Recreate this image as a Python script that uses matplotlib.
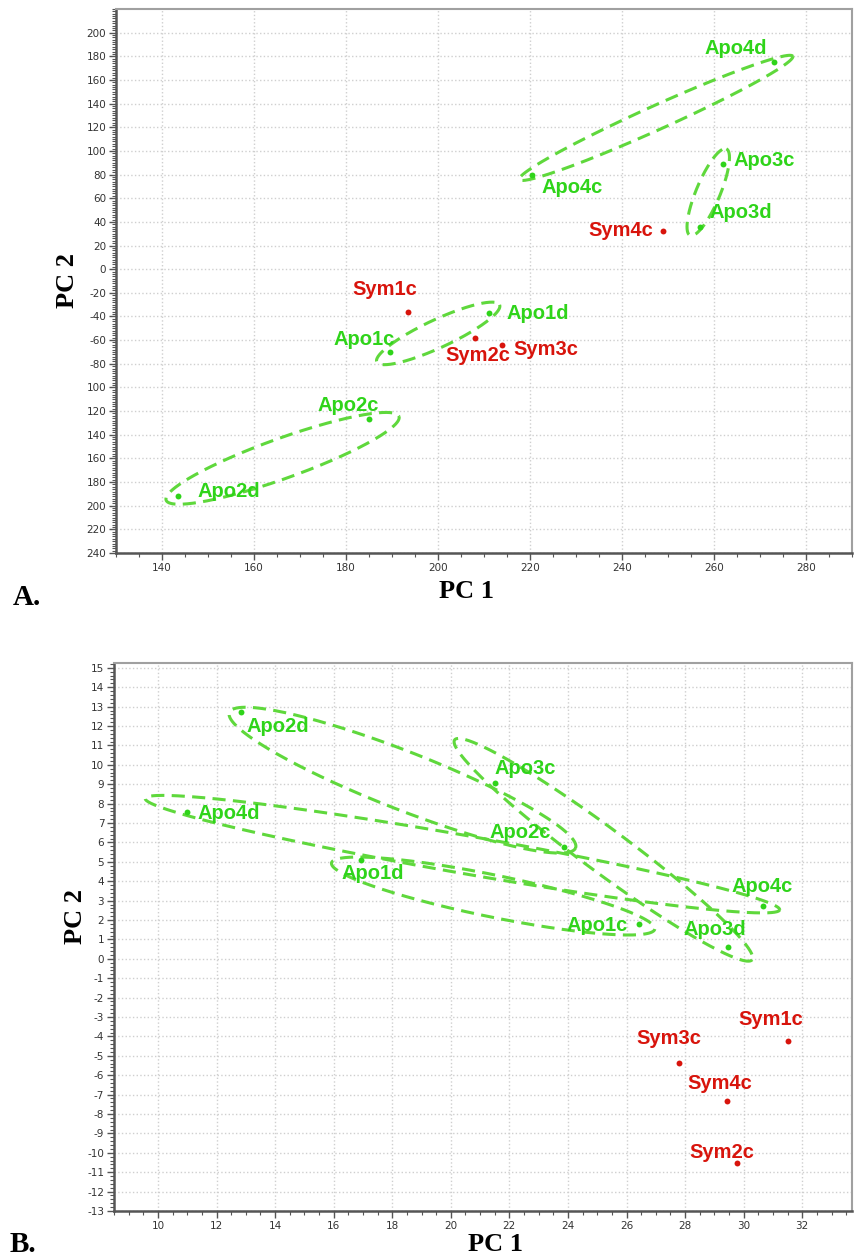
import numpy as np
import matplotlib
matplotlib.use("Agg")
import matplotlib.pyplot as plt
from matplotlib.ticker import MultipleLocator, FuncFormatter

# ====================
# Data
# ====================
names = ["Apo1c", "Apo1d", "Apo2c", "Apo2d", "Apo3c", "Apo3d",
         "Apo4c", "Apo4d", "Sym1c", "Sym2c", "Sym3c", "Sym4c"]

a_pc1 = [189.5, 211.0, 185.0, 143.5, 262.0, 257.0, 220.5, 273.0, 193.5, 208.0, 214.0, 249.0]
a_pc2 = [-70.0, -37.0, -127.0, -192.0, 89.0, 36.0, 80.0, 175.0, -36.0, -58.5, -64.0, 32.0]

b_pc1 = [26.42, 16.95, 23.85, 12.85, 21.5, 29.47, 30.65, 11.0, 31.5, 29.77, 27.78, 29.43]
b_pc2 = [1.79, 5.1, 5.77, 12.7, 9.07, 0.62, 2.73, 7.55, -4.23, -10.53, -5.38, -7.32]

# replicate pairs enclosed by a dashed ellipse
pairs_a = [("Apo1c", "Apo1d"), ("Apo2d", "Apo2c"), ("Apo3d", "Apo3c"), ("Apo4c", "Apo4d")]
pairs_b = [("Apo1d", "Apo1c"), ("Apo2d", "Apo2c"), ("Apo3c", "Apo3d"), ("Apo4d", "Apo4c")]

# ====================
# Styles
# ====================
GREEN = "#2fd41a"
GREEN_LINE = "#5fd83c"
RED = "#d8140c"
W, H = 855, 1256
DPI = 100

plt.rcParams["axes.unicode_minus"] = False

# ellipse shape in px: (extension past 1st point, shift at 1st end,
#                       extension past 2nd point, shift at 2nd end, half width)
ell_a = [(15.7, 4.6, 13.2, -3.5, 14), (12.6, -0.8, 28.9, 8.5, 20),
         (11.8, -6.4, 15.2, -2.2, 12), (13.9, -1.0, 19.7, 2.6, 12)]
ell_b = [(28.5, 9.7, 16.7, 1.3, 21), (11.1, 4.6, 11.5, -3.7, 29),
         (57.5, -12.2, 27.1, -3.2, 22), (43.7, -7.0, 17.4, 1.2, 19)]

# label offsets in pixels (dx, dy, ha)
lab_a = {
    "Apo1c": (5, 12, "right"), "Apo1d": (18, -1, "left"),
    "Apo2c": (10, 14, "right"), "Apo2d": (19, 5, "left"),
    "Apo3c": (10, 3, "left"), "Apo3d": (9, 14, "left"),
    "Apo4c": (9, -13, "left"), "Apo4d": (-7, 14, "right"),
    "Sym1c": (-23, 22, "center"), "Sym2c": (3, -17, "center"),
    "Sym3c": (11, -5, "left"), "Sym4c": (-10, 1, "right"),
}
lab_b = {
    "Apo1c": (-11, -1, "right"), "Apo1d": (-20, -14, "left"),
    "Apo2c": (-13, 14, "right"), "Apo2d": (5, -14, "left"),
    "Apo3c": (0, 14, "left"), "Apo3d": (-13, 17, "center"),
    "Apo4c": (-1, 19, "center"), "Apo4d": (10, -1, "left"),
    "Sym1c": (-17, 21, "center"), "Sym2c": (-15, 11, "center"),
    "Sym3c": (-10, 25, "center"), "Sym4c": (-7, 17, "center"),
}


def pair_ellipse(ax, p1, p2, shape):
    ext1, s1, ext2, s2, half_w = shape
    trans = ax.transData
    hgt = ax.figure.bbox.height
    a, b = trans.transform([p1, p2])
    # work in image pixels (y down)
    a = np.array([a[0], hgt - a[1]])
    b = np.array([b[0], hgt - b[1]])
    u = (b - a) / np.linalg.norm(b - a)
    n = np.array([-u[1], u[0]])
    t1 = a - ext1 * u + s1 * n
    t2 = b + ext2 * u + s2 * n
    c = (t1 + t2) / 2
    semi = np.linalg.norm(t2 - t1) / 2
    v = (t2 - t1) / (2 * semi)
    m = np.array([-v[1], v[0]])
    th = np.linspace(0, 2 * np.pi, 400)
    pts = c + semi * np.cos(th)[:, None] * v + half_w * np.sin(th)[:, None] * m
    pts[:, 1] = hgt - pts[:, 1]
    data = trans.inverted().transform(pts)
    ax.plot(data[:, 0], data[:, 1], color=GREEN_LINE, lw=2.2,
            linestyle=(0, (4.3, 2.4)), zorder=2)


def style_axes(ax):
    for s in ["left", "bottom"]:
        ax.spines[s].set_color("#555555")
        ax.spines[s].set_linewidth(1.8)
    for s in ["top", "right"]:
        ax.spines[s].set_color("#a0a0a0")
        ax.spines[s].set_linewidth(1.5)
    ax.grid(True, which="major", color="#cfcfcf", linestyle=":", linewidth=1.0)
    ax.set_axisbelow(True)
    ax.tick_params(which="major", direction="out", length=5, width=1,
                   color="#555555", labelsize=7.5, labelcolor="#333333", pad=2)
    ax.tick_params(which="minor", direction="out", length=3, width=0.8,
                   color="#555555")
    ax.tick_params(top=False, right=False)


def draw_panel(ax, pc1, pc2, prs, ells, labs):
    pos = {nm: (x, y) for nm, x, y in zip(names, pc1, pc2)}
    for (n1, n2), shape in zip(prs, ells):
        pair_ellipse(ax, pos[n1], pos[n2], shape)
    for nm in names:
        col = GREEN if nm.startswith("Apo") else RED
        x, y = pos[nm]
        ax.scatter([x], [y], s=18, color=col, zorder=3, linewidths=0)
        dx, dy, ha = labs[nm]
        ax.annotate(nm, (x, y), xytext=(dx, dy), textcoords="offset pixels",
                    ha=ha, va="center", color=col, fontsize=14.5,
                    fontweight="bold", family="Liberation Sans", zorder=4)


fig = plt.figure(figsize=(W / DPI, H / DPI), dpi=DPI)

# ====================
# Panel A
# ====================
axA = fig.add_axes([116 / W, 1 - 553 / H, (852 - 116) / W, (553 - 9) / H])
axA.set_xlim(130, 290)
axA.set_ylim(-240, 220)
axA.set_xticks(np.arange(140, 281, 20))
axA.xaxis.set_minor_locator(MultipleLocator(5))
axA.set_yticks(np.arange(-240, 201, 20))
axA.yaxis.set_minor_locator(MultipleLocator(2))
axA.yaxis.set_major_formatter(FuncFormatter(
    lambda v, p: f"{abs(v):g}" if v <= -100 else f"{v:g}"))
style_axes(axA)
draw_panel(axA, a_pc1, a_pc2, pairs_a, ell_a, lab_a)

# ====================
# Panel B
# ====================
axB = fig.add_axes([114 / W, 1 - 1211 / H, (852 - 114) / W, (1211 - 663) / H])
axB.set_xlim(8.5, 33.7)
axB.set_ylim(-13, 15.25)
axB.set_xticks(np.arange(10, 33, 2))
axB.xaxis.set_minor_locator(MultipleLocator(0.5))
axB.set_yticks(np.arange(-13, 16, 1))
axB.yaxis.set_minor_locator(MultipleLocator(0.2))
axB.yaxis.set_major_formatter(FuncFormatter(lambda v, p: f"{v:g}"))
style_axes(axB)
draw_panel(axB, b_pc1, b_pc2, pairs_b, ell_b, lab_b)

# ====================
# Axis titles and panel letters
# ====================
serif = dict(family="Liberation Serif", fontweight="bold", color="black")
fig.text(466 / W, 1 - 598 / H, "PC 1", ha="center", va="baseline", fontsize=19, **serif)
fig.text(67 / W, 1 - 281 / H, "PC 2", ha="center", va="center", rotation=90, fontsize=19, **serif)
fig.text(13 / W, 1 - 605 / H, "A.", ha="left", va="baseline", fontsize=21, **serif)

fig.text(495 / W, 1 - 1251 / H, "PC 1", ha="center", va="baseline", fontsize=19, **serif)
fig.text(75 / W, 1 - 917 / H, "PC 2", ha="center", va="center", rotation=90, fontsize=19, **serif)
fig.text(10 / W, 1 - 1252 / H, "B.", ha="left", va="baseline", fontsize=21, **serif)

fig.savefig("out.png", dpi=DPI)
